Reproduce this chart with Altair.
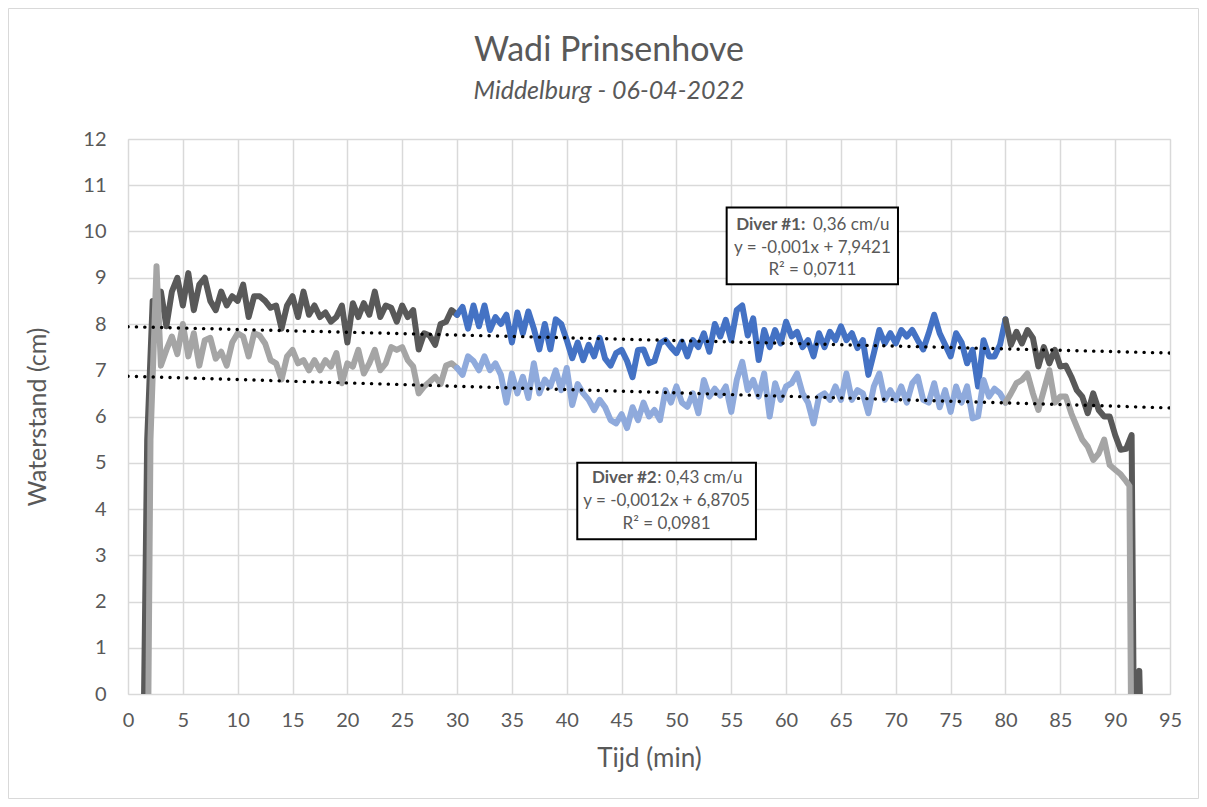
import altair as alt
import pandas as pd

# ---------------- data ----------------
STEP = 0.5                     # minutes between readings on the grid below
D1_T0 = 2.5                    # first grid time of Diver #1
D1_VALUES = [
    8.5, 8.7, 7.95, 8.7, 9.0, 8.4, 9.1, 8.3, 8.85, 9.0,
    8.5, 8.3, 8.7, 8.4, 8.6, 8.5, 8.85, 8.15, 8.6, 8.6,
    8.5, 8.35, 8.4, 7.9, 8.4, 8.6, 8.15, 8.7, 8.2, 8.4,
    8.15, 8.25, 8.05, 8.15, 8.4, 7.6, 8.45, 8.15, 8.45, 8.2,
    8.7, 8.15, 8.4, 8.35, 8.05, 8.4, 8.15, 8.3, 7.45, 7.8,
    7.75, 7.55, 8.0, 8.05, 8.3, 8.2, 8.37, 7.9, 8.4, 7.95,
    8.4, 7.87, 8.15, 8.0, 8.2, 7.6, 8.25, 7.8, 8.27, 7.9,
    7.45, 8.0, 7.45, 8.1, 8.0, 7.65, 7.26, 7.6, 7.22, 7.55,
    7.3, 7.7, 7.25, 7.1, 7.37, 7.44, 7.2, 6.85, 7.44, 7.45,
    7.15, 7.2, 7.58, 7.65, 7.5, 7.37, 7.62, 7.3, 7.65, 7.5,
    7.8, 7.4, 8.0, 7.73, 8.09, 7.65, 8.3, 8.4, 7.75, 8.12,
    7.22, 7.87, 7.5, 7.87, 7.58, 8.05, 7.73, 7.83, 7.5, 7.65,
    7.3, 7.8, 7.5, 7.83, 7.65, 7.95, 7.65, 7.8, 7.48, 7.65,
    6.9, 7.37, 7.87, 7.58, 7.8, 7.58, 7.87, 7.73, 7.87, 7.65,
    7.45, 7.8, 8.2, 7.8, 7.55, 7.3, 7.8, 7.6, 7.15, 7.44,
    6.65, 7.65, 7.3, 7.3, 7.55, 8.1, 7.55, 7.83, 7.58, 7.87,
    7.7, 7.08, 7.5, 7.15, 7.44, 7.08, 7.1, 6.86, 6.57, 6.43,
    6.07, 6.5, 6.14, 6.0, 6.0, 5.6, 5.28, 5.3, 5.6,
]
D1_START_T = [1.45, 1.75, 2.25]
D1_START_V = [-0.3, 5.5, 8.5]
D1_END_T = [91.7, 92.1, 92.2, 92.3]
D1_END_V = [-0.5, -0.5, 0.5, -0.5]

D2_T0 = 3.0
D2_VALUES = [
    7.1, 7.44, 7.73, 7.35, 8.0, 7.3, 7.8, 7.1, 7.65, 7.7,
    7.25, 7.4, 7.1, 7.6, 7.8, 7.73, 7.3, 7.8, 7.75, 7.58,
    7.22, 7.15, 6.8, 7.3, 7.44, 7.15, 7.22, 7.0, 7.22, 7.0,
    7.22, 7.08, 7.37, 6.72, 7.15, 7.08, 7.44, 6.93, 7.15, 7.44,
    7.0, 7.15, 7.5, 7.44, 7.5, 7.22, 7.08, 6.5, 6.65, 6.75,
    6.86, 6.7, 7.1, 7.15, 7.05, 6.9, 7.3, 7.2, 7.0, 7.3,
    7.0, 7.15, 6.9, 6.3, 6.93, 6.5, 6.86, 6.4, 7.15, 6.5,
    6.8, 6.65, 7.0, 6.57, 7.05, 6.25, 6.7, 6.5, 6.36, 6.14,
    6.36, 6.2, 5.92, 5.85, 6.05, 5.75, 6.2, 5.92, 6.3, 6.0,
    6.14, 5.92, 6.57, 6.3, 6.65, 6.3, 6.21, 6.5, 6.07, 6.79,
    6.43, 6.6, 6.45, 6.65, 6.1, 6.79, 7.18, 6.57, 6.79, 6.43,
    6.93, 6.0, 6.72, 6.36, 6.65, 6.72, 6.93, 6.5, 6.3, 5.85,
    6.43, 6.5, 6.36, 6.65, 6.36, 6.93, 6.36, 6.57, 6.5, 6.07,
    6.65, 6.93, 6.36, 6.57, 6.36, 6.65, 6.3, 6.72, 6.86, 6.36,
    6.3, 6.72, 6.2, 6.57, 6.1, 6.65, 6.3, 6.65, 5.96, 6.0,
    6.79, 6.43, 6.6, 6.5, 6.3, 6.5, 6.72, 6.79, 6.93, 6.5,
    6.14, 6.57, 7.0, 6.3, 6.43, 6.43, 6.07, 5.78, 5.5, 5.35,
    5.06, 5.2, 5.5, 4.95, 4.85, 4.75, 4.6,
]
D2_START_T = [1.85, 2.05, 2.6]
D2_START_V = [-0.3, 5.5, 9.25]
D2_END_T = [91.3, 91.45]
D2_END_V = [4.5, -0.5]

BLUE_FROM, BLUE_TO = 30.0, 80.0   # part of the record drawn in blue

# trendlines (Excel, x = reading number, 6 readings per minute)
READINGS_PER_MIN = 6
TREND1 = (-0.001, 7.9421)
TREND2 = (-0.0012, 6.8705)
TREND_T = [0, 95]

X_TICKS = [i * 2.5 for i in range(39)]
Y_TICKS = list(range(13))

TITLE = "Wadi Prinsenhove"
SUBTITLE = "Middelburg - 06-04-2022"
ANNOT1 = ["Diver #1:", "0,36 cm/u", "y = -0,001x + 7,9421", "R² = 0,0711"]
ANNOT2 = ["Diver #2", ": 0,43 cm/u", "y = -0,0012x + 6,8705", "R² = 0,0981"]

COLORS = {"D1a": "#595959", "D1b": "#4472C4", "D1c": "#595959",
          "D2a": "#A5A5A5", "D2b": "#8FAADC", "D2c": "#A5A5A5"}

GREY_TXT = "#595959"
FONT = "Lato"


def build(name, t0, vals, st, sv, et, ev):
    ts = list(st) + [round(t0 + i * STEP, 3) for i in range(len(vals))] + list(et)
    vs = list(sv) + list(vals) + list(ev)
    rows = []
    for t, v in zip(ts, vs):
        if t <= BLUE_FROM:
            rows.append((name + "a", t, v))
        if BLUE_FROM <= t <= BLUE_TO:
            rows.append((name + "b", t, v))
        if t >= BLUE_TO:
            rows.append((name + "c", t, v))
    return pd.DataFrame(rows, columns=["seg", "t", "v"])


d1 = build("D1", D1_T0, D1_VALUES, D1_START_T, D1_START_V, D1_END_T, D1_END_V)
d2 = build("D2", D2_T0, D2_VALUES, D2_START_T, D2_START_V, D2_END_T, D2_END_V)

trend_rows = []
for name, (a, b) in (("T1", TREND1), ("T2", TREND2)):
    for t in TREND_T:
        trend_rows.append((name, t, b + a * READINGS_PER_MIN * t))
trend = pd.DataFrame(trend_rows, columns=["tr", "t", "v"])

W, H = 1042, 555
xs = alt.Scale(domain=[0, 95], nice=False, zero=False)
ys = alt.Scale(domain=[0, 12], nice=False)
cscale = alt.Scale(domain=list(COLORS.keys()), range=list(COLORS.values()))

xaxis = alt.Axis(values=X_TICKS, labelExpr="datum.value % 5 == 0 ? datum.label : ''",
                 format="d", title="Tijd (min)", grid=True, gridColor="#D9D9D9",
                 gridWidth=1.5, domain=False, ticks=False, tickSize=0,
                 labelFont=FONT, labelFontSize=20, labelColor=GREY_TXT, labelPadding=16,
                 titleFont=FONT, titleFontSize=26, titleFontWeight="normal",
                 titleColor=GREY_TXT, titlePadding=15, labelFlush=False)
yaxis = alt.Axis(values=Y_TICKS, title="Waterstand (cm)", grid=True, gridColor="#D9D9D9",
                 gridWidth=1.5, domain=False, ticks=False, tickSize=0,
                 labelFont=FONT, labelFontSize=20, labelColor=GREY_TXT, labelPadding=22,
                 titleFont=FONT, titleFontSize=25, titleFontWeight="normal",
                 titleColor=GREY_TXT, titlePadding=32)

base_x = alt.X("t:Q", scale=xs, axis=xaxis)
base_y = alt.Y("v:Q", scale=ys, axis=yaxis)


def series(df):
    return alt.Chart(df).mark_line(strokeWidth=6, strokeCap="round", strokeJoin="round",
                                   clip=True).encode(
        x=base_x, y=base_y,
        color=alt.Color("seg:N", scale=cscale, legend=None),
        order=alt.Order("t:Q"))


l1 = series(d1)
l2 = series(d2)

tl = alt.Chart(trend).mark_line(strokeWidth=3.4, strokeDash=[0.1, 8.3], strokeCap="round",
                                color="black", clip=True).encode(
    x="t:Q", y="v:Q", detail="tr:N")

# annotation boxes (in data units)
boxes = pd.DataFrame({
    "x1": [54.58, 40.96], "x2": [70.2, 57.25],
    "y1": [8.86, 3.345], "y2": [10.52, 5.0]})
box_layer = alt.Chart(boxes).mark_rect(fill="white", stroke="black", strokeWidth=2).encode(
    x="x1:Q", x2="x2:Q", y="y1:Q", y2="y2:Q")

texts = pd.DataFrame({
    "x": [61.75, 62.45, 62.4, 62.4, 48.2, 48.25, 49.1, 49.1],
    "y": [10.14, 10.14, 9.65, 9.16, 4.67, 4.67, 4.17, 3.68],
    "txt": ANNOT1 + ANNOT2,
    "kind": ["bold", "left", "mid", "mid", "bold", "left", "mid", "mid"]})

AFS = 17
bold_t = alt.Chart(texts[texts.kind == "bold"]).mark_text(
    font=FONT, fontSize=AFS, fontWeight="bold", color=GREY_TXT, align="right",
    baseline="middle").encode(x="x:Q", y="y:Q", text="txt:N")
left_t = alt.Chart(texts[texts.kind == "left"]).mark_text(
    font=FONT, fontSize=AFS, color=GREY_TXT, align="left",
    baseline="middle").encode(x="x:Q", y="y:Q", text="txt:N")
mid_t = alt.Chart(texts[texts.kind == "mid"]).mark_text(
    font=FONT, fontSize=AFS, color=GREY_TXT, align="center",
    baseline="middle").encode(x="x:Q", y="y:Q", text="txt:N")

# chart title and subtitle (positions in pixels relative to the plot area)
head = pd.DataFrame({"txt": [TITLE]})
title_t = alt.Chart(head).mark_text(
    font=FONT, fontSize=34, color=GREY_TXT, align="center", baseline="middle").encode(
    x=alt.value(481), y=alt.value(-88), text="txt:N")
sub = pd.DataFrame({"txt": [SUBTITLE]})
sub_t = alt.Chart(sub).mark_text(
    font=FONT, fontSize=25, fontStyle="italic", color=GREY_TXT, align="center",
    baseline="middle").encode(x=alt.value(481), y=alt.value(-48), text="txt:N")

# outer chart-area border
border = alt.Chart(pd.DataFrame({"k": [0]})).mark_rect(
    fill=None, stroke="#D9D9D9", strokeWidth=1).encode(
    x=alt.value(-119.5), x2=alt.value(W + 28.5), y=alt.value(-130.5), y2=alt.value(H + 104.5))

chart = alt.layer(border, l1, l2, tl, box_layer, bold_t, left_t, mid_t,
                  title_t, sub_t).properties(
    width=W, height=H,
    autosize=alt.AutoSizeParams(type="none"),
    padding={"left": 120, "top": 131, "right": 29, "bottom": 105},
).configure_view(strokeWidth=0).configure(background="white")

chart.save("out.html", embed_options={"renderer": "svg", "actions": False})
